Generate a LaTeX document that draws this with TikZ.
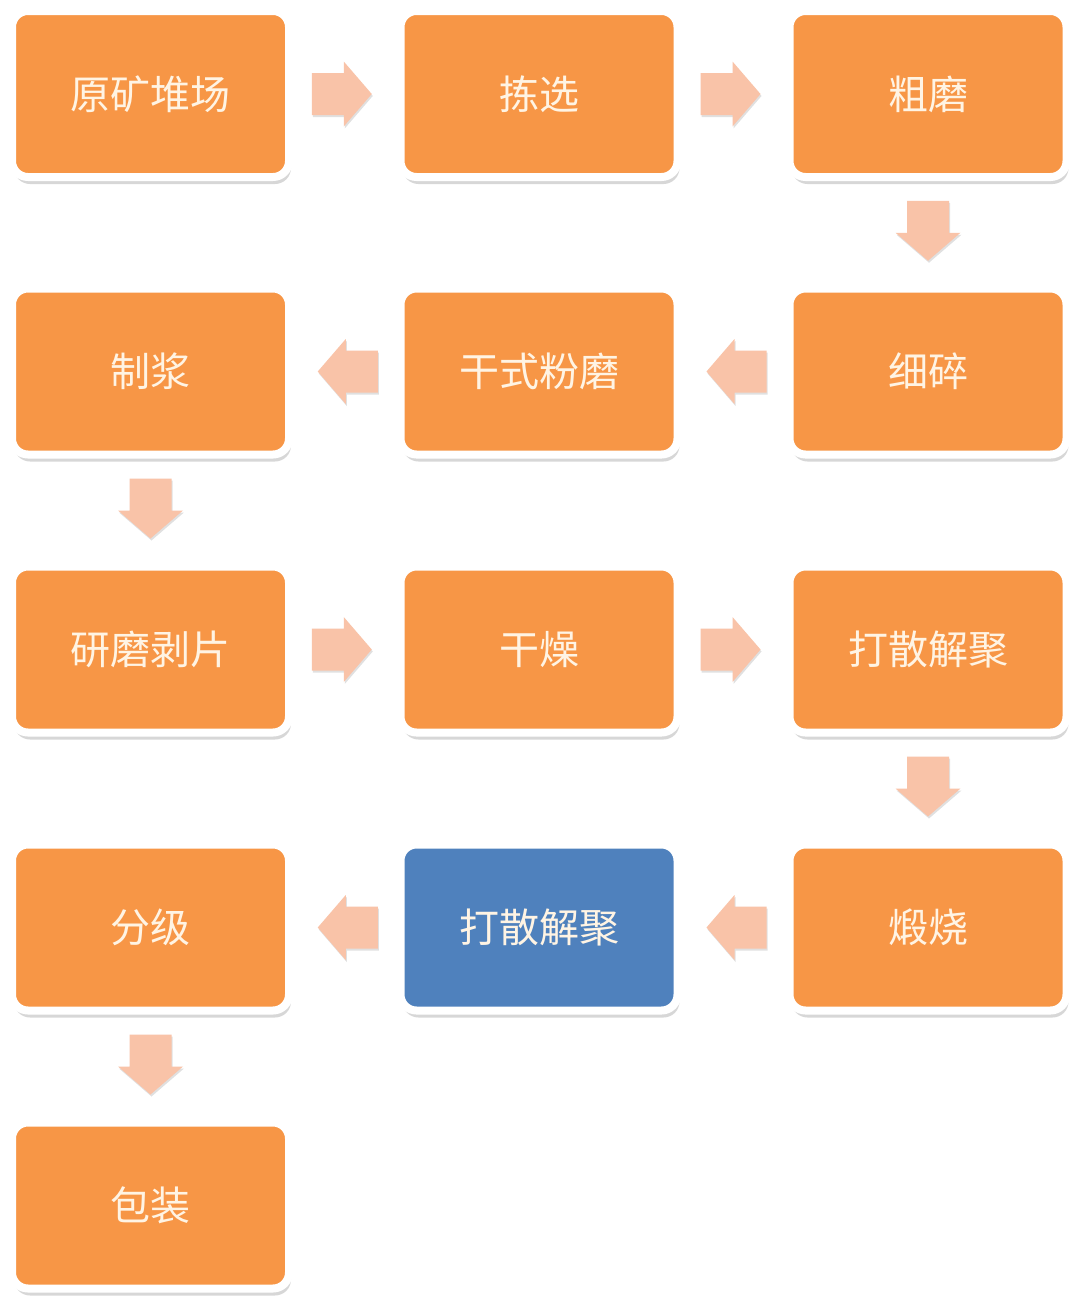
\documentclass[tikz,border=0pt]{standalone}
\usepackage{fontspec}
\newfontfamily\cjk{Noto Sans CJK SC}
\usetikzlibrary{shadows,calc}
\definecolor{boxorange}{HTML}{F79646}
\definecolor{boxblue}{HTML}{4F81BD}
\definecolor{arrowpink}{HTML}{F9C3A8}
\definecolor{txtcol}{HTML}{FFF4E4}
\begin{document}
\begin{tikzpicture}[x=1pt,y=1pt,
 procbox/.style={draw=white, line width=8pt, fill=boxorange, rounded corners=16pt,
   minimum width=277pt, minimum height=166pt, inner sep=0pt, text=txtcol,
   font=\cjk\fontsize{40}{48}\selectfont,
   drop shadow={shadow xshift=2pt, shadow yshift=-7pt, opacity=0.22, fill=black!70}},
 bluebox/.style={procbox, fill=boxblue},
 arrowfill/.style={fill=arrowpink, draw=none,
   drop shadow={shadow xshift=1pt, shadow yshift=-2pt, opacity=0.12, fill=black}},
 blockarrow/.style={insert path={(-30,-21) -- (2,-21) -- (2,-32.5) -- (30,0) -- (2,32.5) -- (2,21) -- (-30,21) -- cycle}}
]
\fill[white] (0,0) rectangle (1080,-1304);
\useasboundingbox (0,0) rectangle (1080,-1304);

\node[procbox] (n1) at (150.5,-94) {原矿堆场};
\node[procbox] (n2) at (539,-94) {拣选};
\node[procbox] (n3) at (928,-94) {粗磨};
\node[procbox] (n4) at (928,-371.5) {细碎};
\node[procbox] (n5) at (539,-371.5) {干式粉磨};
\node[procbox] (n6) at (150.5,-371.5) {制浆};
\node[procbox] (n7) at (150.5,-649.5) {研磨剥片};
\node[procbox] (n8) at (539,-649.5) {干燥};
\node[procbox] (n9) at (928,-649.5) {打散解聚};
\node[procbox] (n10) at (928,-927.5) {煅烧};
\node[bluebox] (n11) at (539,-927.5) {打散解聚};
\node[procbox] (n12) at (150.5,-927.5) {分级};
\node[procbox] (n13) at (150.5,-1205.5) {包装};

\coordinate (a1) at ($(n1.east)!0.5!(n2.west)+(-3,0)$);
\coordinate (a2) at ($(n2.east)!0.5!(n3.west)+(-3,0)$);
\coordinate (a3) at ($(n3.south)!0.5!(n4.north)+(0,2)$);
\coordinate (a4) at ($(n4.west)!0.5!(n5.east)+(3,0)$);
\coordinate (a5) at ($(n5.west)!0.5!(n6.east)+(3,0)$);
\coordinate (a6) at ($(n6.south)!0.5!(n7.north)+(0,2)$);
\coordinate (a7) at ($(n7.east)!0.5!(n8.west)+(-3,0)$);
\coordinate (a8) at ($(n8.east)!0.5!(n9.west)+(-3,0)$);
\coordinate (a9) at ($(n9.south)!0.5!(n10.north)+(0,2)$);
\coordinate (a10) at ($(n10.west)!0.5!(n11.east)+(3,0)$);
\coordinate (a11) at ($(n11.west)!0.5!(n12.east)+(3,0)$);
\coordinate (a12) at ($(n12.south)!0.5!(n13.north)+(0,2)$);

\foreach \a in {a1,a2,a7,a8} \path[arrowfill, shift={(\a)}, blockarrow];
\foreach \a in {a4,a5,a10,a11} \path[arrowfill, shift={(\a)}, rotate=180, blockarrow];
\foreach \a in {a3,a6,a9,a12} \path[arrowfill, shift={(\a)}, rotate=-90, blockarrow];
\end{tikzpicture}
\end{document}
